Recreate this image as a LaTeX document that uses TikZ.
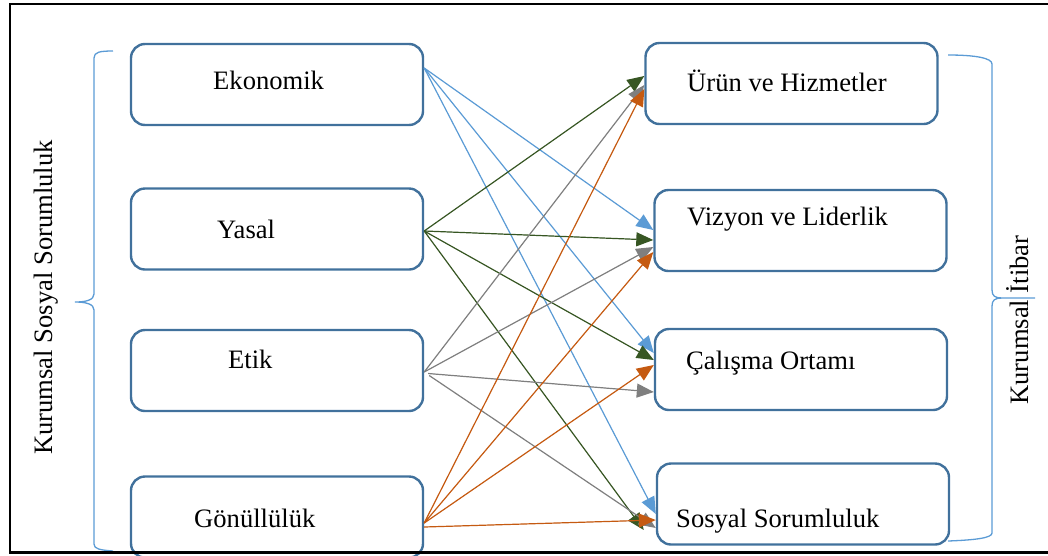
\documentclass[tikz,border=0pt]{standalone}
\usepackage{fontspec}
\setmainfont{Liberation Serif}
\usetikzlibrary{arrows.meta}
\definecolor{boxline}{HTML}{41719C}
\definecolor{cblue}{HTML}{5B9BD5}
\definecolor{cgreen}{HTML}{375623}
\definecolor{cgray}{HTML}{7F7F7F}
\definecolor{corange}{HTML}{C55A11}
\begin{document}
\begin{tikzpicture}[x=1pt,y=-1pt,
  box/.style={draw=boxline, line width=2.4pt, rounded corners=14pt,
    minimum width=292pt, minimum height=81pt, inner sep=0pt},
  txt/.style={anchor=base west, inner sep=0pt, font=\fontsize{26.6}{32}\selectfont},
  side/.style={anchor=base, inner sep=0pt, rotate=90, font=\fontsize{26.6}{32}\selectfont},
  link/.style={line width=1.2pt, -{Triangle[length=17pt,width=14pt]}},
  bluelink/.style={link, draw=cblue, fill=cblue},
  greenlink/.style={link, draw=cgreen, fill=cgreen},
  graylink/.style={link, draw=cgray, fill=cgray},
  orangelink/.style={link, draw=corange, fill=corange},
  brace/.style={draw=cblue, line width=1.3pt}]
\useasboundingbox (0,0) rectangle (1048,555);
\clip (0,0) rectangle (1048,555);

% responsibility dimensions (left column)
\node[box] (eko) at (277,84.5) {};
\node[box] (yas) at (277,229) {};
\node[box] (etk) at (277,370.5) {};
\node[box] (gon) at (277,517) {};
\node[txt] (ekot) at (213,89) {Ekonomik};
\node[txt] (yast) at (217,238) {Yasal};
\node[txt] (etkt) at (228,368) {Etik};
\node[txt] (gont) at (194,527) {Gönüllülük};

% reputation dimensions (right column)
\node[box] (uru) at (791.5,83.5) {};
\node[box] (viz) at (800.5,230.5) {};
\node[box] (cal) at (801,369.5) {};
\node[box] (sos) at (803,504) {};
\node[txt] (urut) at (687,91) {Ürün ve Hizmetler};
\node[txt] (vizt) at (687,225) {Vizyon ve Liderlik};
\node[txt] (calt) at (686,369) {Çalışma Ortamı};
\node[txt] (sost) at (676,527) {Sosyal Sorumluluk};

% Ekonomik
\draw[bluelink] ([yshift=16.5pt]eko.east) -- ([yshift=0.5pt]viz.west);
\draw[bluelink] ([yshift=16.5pt]eko.east) -- ([yshift=16.5pt]cal.west);
\draw[bluelink] ([yshift=16.5pt]eko.east) -- ([yshift=-10pt]sos.west);
% Yasal
\draw[greenlink] ([yshift=-2pt]yas.east) -- ([yshift=7.5pt]uru.west);
\draw[greenlink] ([yshift=-2pt]yas.east) -- ([yshift=-9.5pt]viz.west);
\draw[greenlink] ([yshift=-2pt]yas.east) -- ([yshift=9.5pt]cal.west);
\draw[greenlink] ([yshift=-2pt]yas.east) -- ([xshift=-12pt,yshift=-26pt]sos.west);
% Etik
\draw[graylink] ([yshift=-1.5pt]etk.east) -- ([yshift=-1.5pt]uru.west);
\draw[graylink] ([yshift=-1.5pt]etk.east) -- ([yshift=-16.5pt]viz.west);
\draw[graylink] ([xshift=4pt,yshift=-3pt]etk.east) -- ([yshift=-22.5pt]cal.west);
\draw[graylink] ([xshift=5pt,yshift=-5pt]etk.east) -- ([yshift=-24pt]sos.west);
% Gönüllülük
\draw[orangelink] ([yshift=-6pt]gon.east) -- ([yshift=-5.5pt]uru.west);
\draw[orangelink] ([yshift=-6pt]gon.east) -- ([yshift=-21.5pt]viz.west);
\draw[orangelink] ([yshift=-6pt]gon.east) -- ([yshift=4.5pt]cal.west);
\draw[orangelink] ([yshift=-10pt]gon.east) -- ([yshift=-16pt]sos.west);

% braces
\draw[brace] (113,51) .. controls (100,51) and (94,52) .. (94,58) -- (94,294)
  .. controls (94,300) and (86,302) .. (75,302)
  .. controls (86,302) and (94,304) .. (94,310) -- (94,544)
  .. controls (94,549) and (100,550) .. (113,551);
\draw[brace] (948,55) .. controls (975,55) and (992,58) .. (992,64) -- (992,290)
  .. controls (992,296) and (995,298) .. (1002,298) -- (1035,298) -- (1002,298)
  .. controls (995,298) and (992,300) .. (992,306) -- (992,533)
  .. controls (992,538) and (975,540) .. (948,541);

% group labels
\node[side] (csr) at (52,297.5) {Kurumsal Sosyal Sorumluluk};
\node[side] (rep) at (1028,320) {Kurumsal İtibar};

% frame
\draw[line width=2pt] (1048,4) -- (10,4) -- (10,552);
\draw[line width=3pt] (9,552) -- (1048,552);
\end{tikzpicture}
\end{document}
